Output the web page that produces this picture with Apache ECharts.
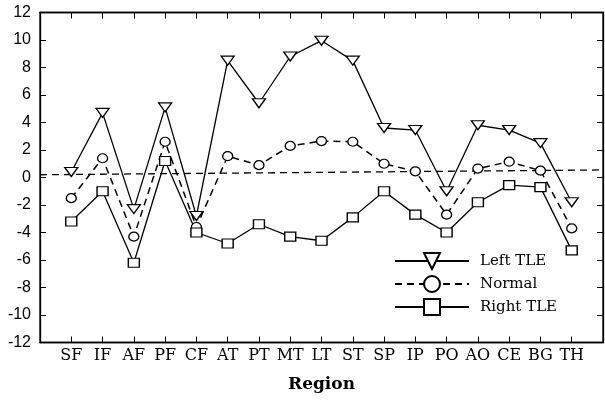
<!DOCTYPE html>
<html>
<head>
<meta charset="utf-8">
<script src="https://cdn.jsdelivr.net/npm/echarts@6/dist/echarts.min.js"></script>
<style>
  html, body { margin: 0; padding: 0; background: #fff; }
  #chart { width: 605px; height: 401px; }
</style>
</head>
<body>
<div id="chart"></div>
<script>
// regions along the x axis
var categories = ["SF", "IF", "AF", "PF", "CF", "AT", "PT", "MT", "LT", "ST", "SP", "IP", "PO", "AO", "CE", "BG", "TH"];
var leftTLE = [0.4, 4.7, -2.3, 5.1, -2.8, 8.5, 5.4, 8.8, 9.95, 8.5, 3.6, 3.45, -1.0, 3.8, 3.45, 2.5, -1.8];
var normal = [-1.5, 1.4, -4.3, 2.6, -3.6, 1.55, 0.9, 2.3, 2.65, 2.6, 1.0, 0.45, -2.7, 0.65, 1.15, 0.5, -3.7];
var rightTLE = [-3.2, -1.0, -6.2, 1.2, -4.0, -4.8, -3.4, -4.3, -4.6, -2.9, -1.0, -2.7, -4.0, -1.8, -0.55, -0.7, -5.3];
// dashed reference line, ends at the plot edges
var refLine = [[0, 0.2], [18, 0.55]];

var serif = "'DejaVu Serif', 'Liberation Serif', serif";
var catPos = categories.map(function (c, i) { return i + 1; });

function toPoints(vals) {
  return vals.map(function (v, i) { return [i + 1, v]; });
}

var chart = echarts.init(document.getElementById("chart"));
var option = {
  animation: false,
  grid: { left: 40, right: 2, top: 12.5, bottom: 58.5, show: true, borderColor: "#000", borderWidth: 1.3 },
  legend: {
    left: 389, top: 247, orient: "vertical",
    itemWidth: 74, itemHeight: 20, itemGap: 5,
    textStyle: { fontFamily: serif, fontSize: 15, color: "#000", padding: [0, 0, 0, 6] },
    data: ["Left TLE", "Normal", "Right TLE"]
  },
  xAxis: [
    {
      type: "value", min: 0, max: 18, interval: 1,
      name: "Region", nameLocation: "middle", nameGap: 34,
      nameTextStyle: { fontFamily: serif, fontSize: 17, fontWeight: "bold", color: "#000" },
      axisLine: { onZero: false, lineStyle: { color: "#000", width: 1.3 } },
      axisTick: { inside: true, length: 6, lineStyle: { color: "#000" }, customValues: catPos },
      axisLabel: {
        fontFamily: serif, fontSize: 16, color: "#000", margin: 5,
        customValues: catPos,
        formatter: function (v) { return categories[v - 1] || ""; }
      },
      splitLine: { show: false }
    },
    {
      type: "value", min: 0, max: 18, position: "top",
      axisLine: { show: true, onZero: false, lineStyle: { color: "#000", width: 1.3 } },
      axisTick: { inside: true, length: 6, lineStyle: { color: "#000" }, customValues: catPos },
      axisLabel: { show: false },
      splitLine: { show: false }
    }
  ],
  yAxis: [
    {
      type: "value", min: -12, max: 12, interval: 2,
      axisLine: { show: true, onZero: false, lineStyle: { color: "#000", width: 1.3 } },
      axisTick: { inside: true, length: 6, lineStyle: { color: "#000" } },
      axisLabel: { fontFamily: "'Liberation Sans', Arial, sans-serif", fontSize: 16, color: "#000", margin: 9 },
      splitLine: { show: false }
    },
    {
      type: "value", min: -12, max: 12, interval: 2, position: "right",
      axisLine: { show: true, onZero: false, lineStyle: { color: "#000", width: 1.3 } },
      axisTick: { inside: true, length: 6, lineStyle: { color: "#000" } },
      axisLabel: { show: false },
      splitLine: { show: false }
    }
  ],
  series: [
    {
      name: "ref", type: "line", data: refLine, symbol: "none",
      lineStyle: { color: "#000", width: 1.3, type: [7, 5] }, z: 1
    },
    {
      name: "Left TLE", type: "line", data: toPoints(leftTLE),
      symbol: "triangle", symbolRotate: 180, symbolSize: [13, 9],
      itemStyle: { color: "#fff", borderColor: "#000", borderWidth: 1.3 },
      lineStyle: { color: "#000", width: 1.3 }
    },
    {
      name: "Normal", type: "line", data: toPoints(normal),
      symbol: "circle", symbolSize: [10, 9],
      itemStyle: { color: "#fff", borderColor: "#000", borderWidth: 1.3 },
      lineStyle: { color: "#000", width: 1.5, type: [7, 5] }
    },
    {
      name: "Right TLE", type: "line", data: toPoints(rightTLE),
      symbol: "rect", symbolSize: [11, 9],
      itemStyle: { color: "#fff", borderColor: "#000", borderWidth: 1.3 },
      lineStyle: { color: "#000", width: 1.3 }
    }
  ]
};
chart.setOption(option);
</script>
</body>
</html>
